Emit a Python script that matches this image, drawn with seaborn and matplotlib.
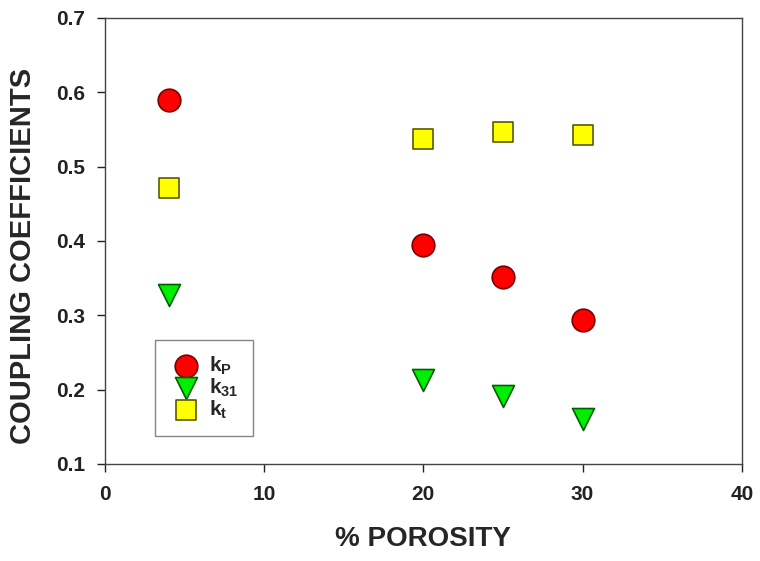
import seaborn as sns
import matplotlib.pyplot as plt
import pandas as pd

porosity = [4, 20, 25, 30]
kp = [0.590, 0.395, 0.351, 0.293]
k31 = [0.327, 0.213, 0.191, 0.161]
kt = [0.471, 0.537, 0.547, 0.542]

sns.set_style("ticks")
plt.rcParams["font.family"] = ["Liberation Sans", "DejaVu Sans"]
plt.rcParams["font.weight"] = "bold"
plt.rcParams["mathtext.fontset"] = "custom"
plt.rcParams["mathtext.bf"] = "Liberation Sans:bold"
plt.rcParams["mathtext.rm"] = "Liberation Sans:bold"
plt.rcParams["mathtext.default"] = "bf"

fig = plt.figure(figsize=(7.6, 5.61), dpi=100)
ax = fig.add_axes([0.138, 0.173, 0.838, 0.795])

# (values, marker, face, edge, label, size)
series = [
    (kp, "o", "#ff0000", "#7a0000", r"k$_P$", 265),
    (k31, "v", "#00ee00", "#006000", r"k$_{31}$", 250),
    (kt, "s", "#ffff00", "#5a5a00", r"k$_t$", 207),
]
for vals, mk, col, ec, lab, s in series:
    df = pd.DataFrame({"x": porosity, "y": vals})
    sns.scatterplot(data=df, x="x", y="y", marker=mk, color=col, s=s,
                    edgecolor=ec, linewidth=1.2, label=lab, ax=ax, zorder=3)

ax.set_xlim(0, 40)
ax.set_ylim(0.1, 0.7)
ax.set_xticks([0, 10, 20, 30, 40])
ax.set_yticks([0.1, 0.2, 0.3, 0.4, 0.5, 0.6, 0.7])
ax.tick_params(direction="out", length=6, width=1, labelsize=15,
               colors="#222222", pad=8)
ax.tick_params(axis="x", pad=9)
for sp in ax.spines.values():
    sp.set_color("#444444")
    sp.set_linewidth(1)

ax.set_xlabel("% POROSITY", fontsize=20, fontweight="bold", labelpad=16)
ax.set_ylabel("COUPLING COEFFICIENTS", fontsize=21, fontweight="bold")
ax.yaxis.set_label_coords(-0.107, 0.466)

leg = ax.legend(loc="lower left", bbox_to_anchor=(0.079, 0.063), fontsize=15,
                frameon=True, fancybox=False, edgecolor="#666666",
                handletextpad=0.3, labelspacing=0.0, borderpad=0.7,
                handlelength=1.6, borderaxespad=0)
leg.get_frame().set_linewidth(1)

fig.savefig("out.png", dpi=100)
